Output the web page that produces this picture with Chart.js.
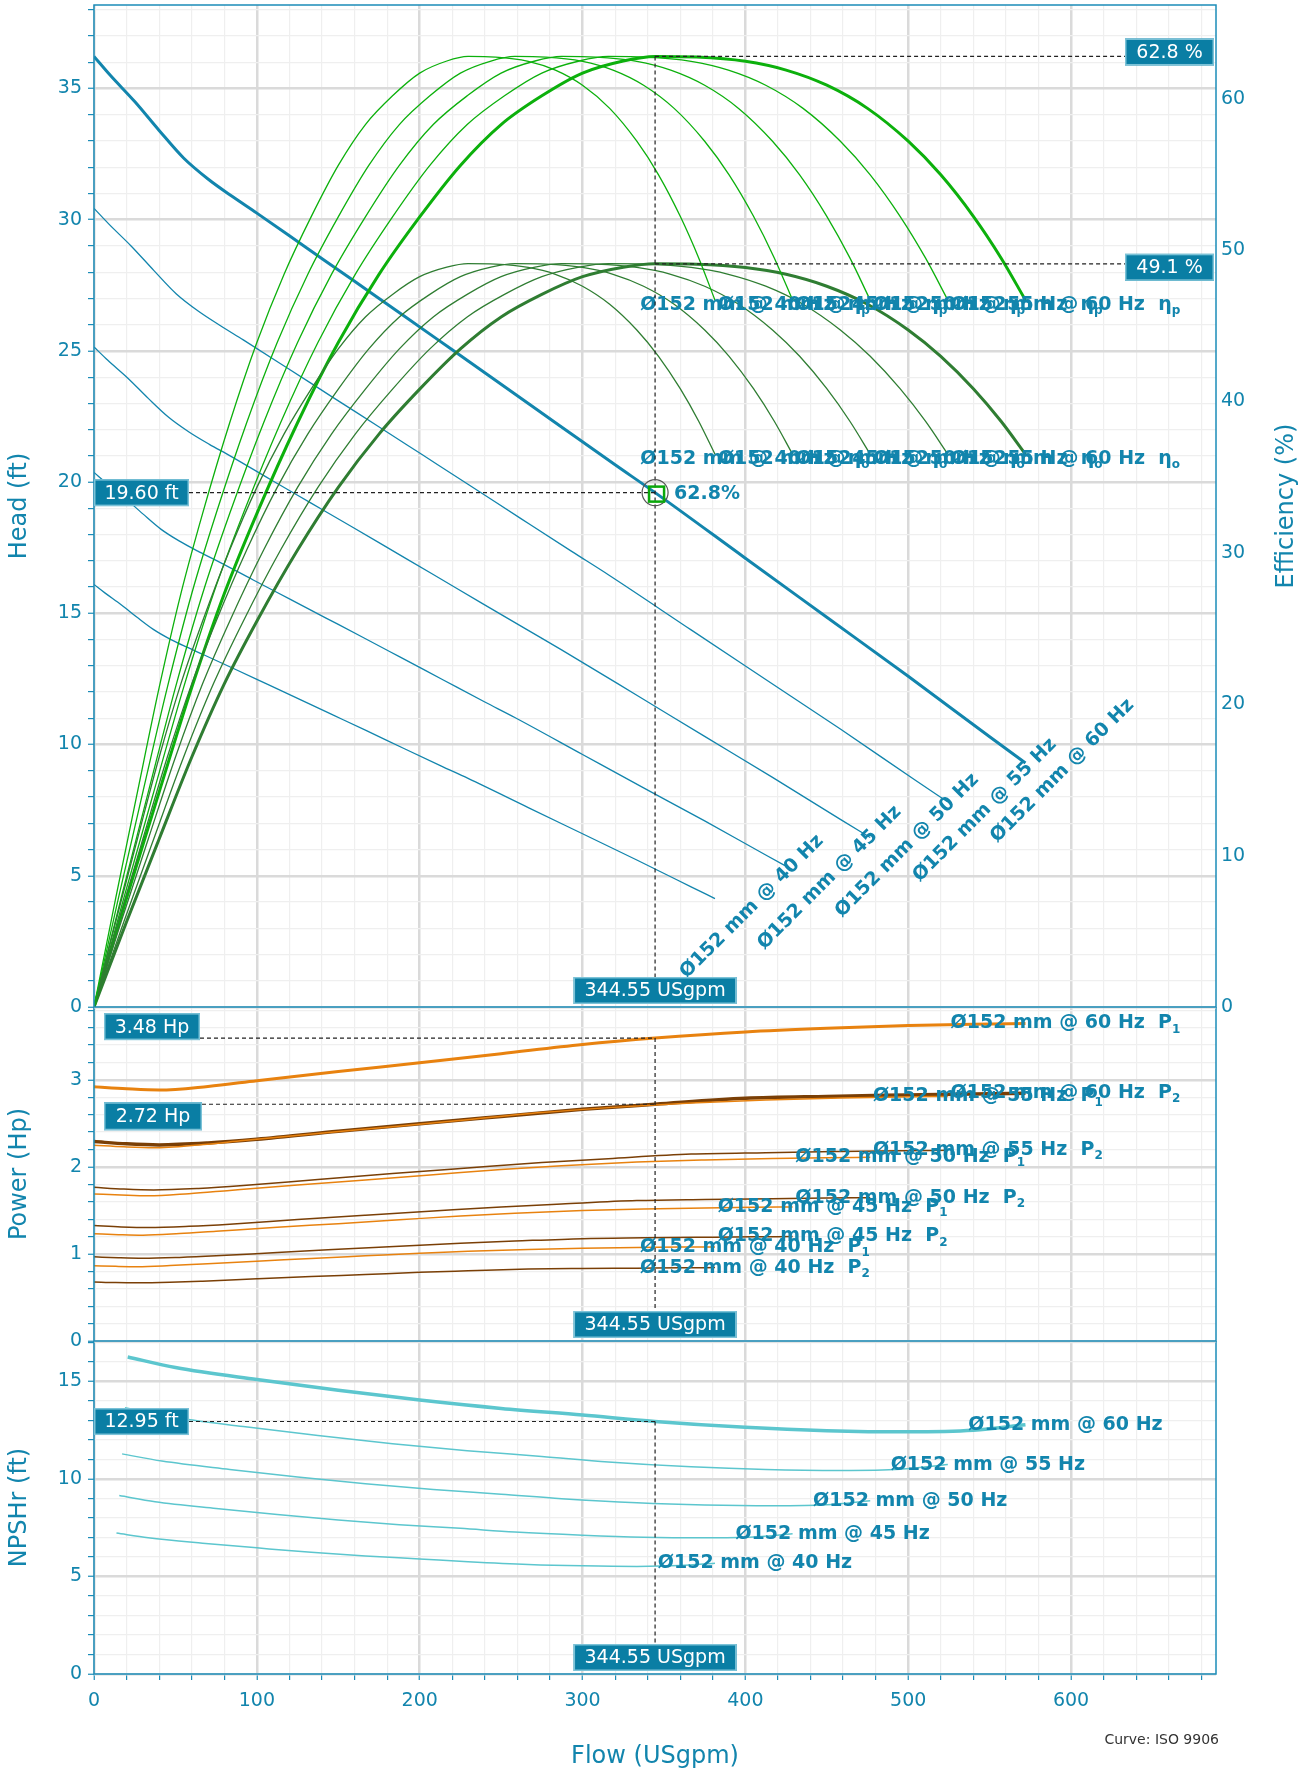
<!DOCTYPE html>
<html>
<head>
<meta charset="utf-8">
<script src="https://cdn.jsdelivr.net/npm/chart.js@4.4.1/dist/chart.umd.min.js"></script>
<style>
    body { margin: 0; background: #fff; width: 1312px; height: 1773px; position: relative; overflow: hidden; }
    .wrap { position: absolute; left: 0; width: 1312px; }
</style>
</head>
<body>
<div class="wrap" style="top:0;height:1020px;z-index:3"><canvas id="headChart"></canvas></div>
<div class="wrap" style="top:1007px;height:347px;z-index:2"><canvas id="powerChart"></canvas></div>
<div class="wrap" style="top:1341px;height:432px;z-index:1"><canvas id="npshChart"></canvas></div>
<script>
// duty point
const dutyFlow = 344.55;
const dutyHead = 19.60;
const dutyEtaP = 62.8;
const dutyEtaO = 49.1;
const dutyP1 = 3.48;
const dutyP2 = 2.72;
const dutyNpsh = 12.95;

// head curves (ft)
const headQ60 = [0, 10, 25, 40, 55, 70, 85, 100, 130, 160, 190, 220, 250, 286, 320, 344.55, 400, 450, 500, 550, 572];
const headH60 = [36.22, 35.5, 34.5, 33.4, 32.35, 31.55, 30.88, 30.25, 28.95, 27.65, 26.35, 25.04, 23.73, 22.15, 20.66, 19.6, 17.1, 14.85, 12.6, 10.3, 9.3];
const headQ55 = [0, 9.17, 22.92, 36.67, 50.42, 64.17, 77.92, 91.67, 119.17, 146.67, 174.17, 201.67, 229.17, 262.17, 293.33, 315.84, 366.67, 412.5, 458.33, 504.17, 524.33];
const headH55 = [30.43, 29.83, 28.99, 28.07, 27.18, 26.51, 25.95, 25.42, 24.33, 23.23, 22.14, 21.04, 19.94, 18.61, 17.36, 16.47, 14.37, 12.48, 10.59, 8.65, 7.81];
const headQ50 = [0, 8.33, 20.83, 33.33, 45.83, 58.33, 70.83, 83.33, 108.33, 133.33, 158.33, 183.33, 208.33, 238.33, 266.67, 287.13, 333.33, 375, 416.67, 458.33, 476.67];
const headH50 = [25.15, 24.65, 23.96, 23.19, 22.47, 21.91, 21.44, 21.01, 20.1, 19.2, 18.3, 17.39, 16.48, 15.38, 14.35, 13.61, 11.88, 10.31, 8.75, 7.15, 6.46];
const headQ45 = [0, 7.5, 18.75, 30, 41.25, 52.5, 63.75, 75, 97.5, 120, 142.5, 165, 187.5, 214.5, 240, 258.41, 300, 337.5, 375, 412.5, 429];
const headH45 = [20.37, 19.97, 19.41, 18.79, 18.2, 17.75, 17.37, 17.02, 16.28, 15.55, 14.82, 14.09, 13.35, 12.46, 11.62, 11.03, 9.62, 8.35, 7.09, 5.79, 5.23];
const headQ40 = [0, 6.67, 16.67, 26.67, 36.67, 46.67, 56.67, 66.67, 86.67, 106.67, 126.67, 146.67, 166.67, 190.67, 213.33, 229.7, 266.67, 300, 333.33, 366.67, 381.33];
const headH40 = [16.1, 15.78, 15.33, 14.84, 14.38, 14.02, 13.72, 13.44, 12.87, 12.29, 11.71, 11.13, 10.55, 9.84, 9.18, 8.71, 7.6, 6.6, 5.6, 4.58, 4.13];

// efficiency curves (%), same values at every speed, flows shift
const etaP = [0, 7.2, 14.2, 21.1, 27.3, 32.6, 38.6, 43.9, 48.4, 52.2, 55.6, 58.3, 60.2, 61.7, 62.5, 62.8, 62.76, 62.48, 61.9, 60.9, 59.37, 57.2, 54.98, 52.24, 49.49, 46.7];
const etaO = [0, 5.63, 11.1, 16.5, 21.35, 25.49, 30.19, 34.33, 37.85, 40.82, 43.48, 45.59, 47.08, 48.25, 48.88, 49.11, 49.08, 48.86, 48.41, 47.62, 46.43, 44.73, 42.99, 40.85, 38.7, 36.52];
const effQ60 = [0, 20, 40, 60, 80, 100, 125, 150, 175, 200, 225, 250, 275, 300, 325, 344.55, 370, 400, 425, 450, 475, 500, 520, 540, 557, 572];
const effQ55 = [0, 18.33, 36.67, 55, 73.33, 91.67, 114.58, 137.5, 160.42, 183.33, 206.25, 229.17, 252.08, 275, 297.92, 315.84, 339.17, 366.67, 389.58, 412.5, 435.42, 458.33, 476.67, 495, 510.58, 524.33];
const effQ50 = [0, 16.67, 33.33, 50, 66.67, 83.33, 104.17, 125, 145.83, 166.67, 187.5, 208.33, 229.17, 250, 270.83, 287.13, 308.33, 333.33, 354.17, 375, 395.83, 416.67, 433.33, 450, 464.17, 476.67];
const effQ45 = [0, 15, 30, 45, 60, 75, 93.75, 112.5, 131.25, 150, 168.75, 187.5, 206.25, 225, 243.75, 258.41, 277.5, 300, 318.75, 337.5, 356.25, 375, 390, 405, 417.75, 429];
const effQ40 = [0, 13.33, 26.67, 40, 53.33, 66.67, 83.33, 100, 116.67, 133.33, 150, 166.67, 183.33, 200, 216.67, 229.7, 246.67, 266.67, 283.33, 300, 316.67, 333.33, 346.67, 360, 371.33, 381.33];

// power curves (Hp)
const powQ60 = [0, 20, 40, 70, 100, 150, 200, 250, 300, 344.55, 400, 450, 500, 540, 572];
const powQ55 = [0, 18.33, 36.67, 64.17, 91.67, 137.5, 183.33, 229.17, 275, 315.84, 366.67, 412.5, 458.33, 495, 524.33];
const powQ50 = [0, 16.67, 33.33, 58.33, 83.33, 125, 166.67, 208.33, 250, 287.13, 333.33, 375, 416.67, 450, 476.67];
const powQ45 = [0, 15, 30, 52.5, 75, 112.5, 150, 187.5, 225, 258.41, 300, 337.5, 375, 405, 429];
const powQ40 = [0, 13.33, 26.67, 46.67, 66.67, 100, 133.33, 166.67, 200, 229.7, 266.67, 300, 333.33, 360, 381.33];
const p1_60 = [2.92, 2.897, 2.883, 2.925, 2.99, 3.095, 3.196, 3.3, 3.406, 3.48, 3.551, 3.593, 3.624, 3.64, 3.647];
const p1_55 = [2.249, 2.231, 2.221, 2.253, 2.303, 2.384, 2.462, 2.542, 2.624, 2.681, 2.735, 2.768, 2.791, 2.804, 2.809];
const p1_50 = [1.69, 1.677, 1.668, 1.693, 1.73, 1.791, 1.85, 1.91, 1.971, 2.014, 2.055, 2.079, 2.097, 2.106, 2.111];
const p1_45 = [1.232, 1.222, 1.216, 1.234, 1.261, 1.306, 1.348, 1.392, 1.437, 1.468, 1.498, 1.516, 1.529, 1.536, 1.539];
const p1_40 = [0.865, 0.858, 0.854, 0.867, 0.886, 0.917, 0.947, 0.978, 1.009, 1.031, 1.052, 1.065, 1.074, 1.079, 1.081];
const p2_60 = [2.291, 2.265, 2.253, 2.275, 2.318, 2.41, 2.497, 2.58, 2.662, 2.72, 2.788, 2.81, 2.826, 2.838, 2.845];
const p2_55 = [1.765, 1.745, 1.735, 1.752, 1.785, 1.856, 1.923, 1.987, 2.05, 2.095, 2.147, 2.164, 2.177, 2.186, 2.191];
const p2_50 = [1.326, 1.311, 1.304, 1.317, 1.341, 1.395, 1.445, 1.493, 1.54, 1.574, 1.613, 1.626, 1.635, 1.642, 1.646];
const p2_45 = [0.967, 0.956, 0.95, 0.96, 0.978, 1.017, 1.053, 1.088, 1.123, 1.148, 1.176, 1.185, 1.192, 1.197, 1.2];
const p2_40 = [0.679, 0.671, 0.668, 0.674, 0.687, 0.714, 0.74, 0.764, 0.789, 0.806, 0.826, 0.833, 0.837, 0.841, 0.843];

// NPSHr curves (ft)
const npshQ60 = [20.7, 50, 100, 150, 200, 250, 300, 344.55, 400, 450, 500, 540, 572];
const npsh60 = [16.26, 15.72, 15.1, 14.55, 14.05, 13.62, 13.28, 12.95, 12.65, 12.48, 12.42, 12.5, 12.78];
const npshQ55 = [18.98, 45.83, 91.67, 137.5, 183.33, 229.17, 275, 315.84, 366.67, 412.5, 458.33, 495, 524.33];
const npsh55 = [13.66, 13.21, 12.69, 12.23, 11.81, 11.45, 11.16, 10.88, 10.63, 10.49, 10.44, 10.5, 10.74];
const npshQ50 = [17.25, 41.67, 83.33, 125, 166.67, 208.33, 250, 287.13, 333.33, 375, 416.67, 450, 476.67];
const npsh50 = [11.29, 10.92, 10.49, 10.1, 9.76, 9.46, 9.22, 8.99, 8.78, 8.67, 8.63, 8.68, 8.88];
const npshQ45 = [15.53, 37.5, 75, 112.5, 150, 187.5, 225, 258.41, 300, 337.5, 375, 405, 429];
const npsh45 = [9.15, 8.84, 8.49, 8.18, 7.9, 7.66, 7.47, 7.28, 7.12, 7.02, 6.99, 7.03, 7.19];
const npshQ40 = [13.8, 33.33, 66.67, 100, 133.33, 166.67, 200, 229.7, 266.67, 300, 333.33, 360, 381.33];
const npsh40 = [7.23, 6.99, 6.71, 6.47, 6.24, 6.05, 5.9, 5.76, 5.62, 5.55, 5.52, 5.56, 5.68];

const FONT = '"DejaVu Sans", Verdana, sans-serif';
const AXIS = '#1b8cb8';
const TEXT = '#1285ad';
const BOX_BG = '#0a7ea4';
const HEAD_C = '#1285ad';
const ETAP_C = '#0cb00c';
const ETAO_C = '#2f7d32';
const P1_C = '#e8820f';
const P2_C = '#7a3f06';
const NPSH_C = '#5cc6ce';
const LABEL_FONT = `bold 19px ${FONT}`;
const SUB_FONT = `bold 12px ${FONT}`;

const isMajor = (v, step) => Math.abs(v / step - Math.round(v / step)) < 1e-6;
const pts = (xs, ys) => xs.map((x, i) => ({ x: x, y: ys[i] }));
const line = (xs, ys, color, width, yAxisID) => ({
    data: pts(xs, ys),
    borderColor: color,
    borderWidth: width,
    pointRadius: 0,
    fill: false,
    cubicInterpolationMode: 'monotone',
    yAxisID: yAxisID
});
const last = arr => arr[arr.length - 1];

function gridOpts(step) {
    return {
        color: c => (c.tick && isMajor(c.tick.value, step)) ? '#dadada' : '#efefef',
        lineWidth: c => (c.tick && isMajor(c.tick.value, step)) ? 2.5 : 1.2,
        tickColor: AXIS,
        tickWidth: 1.2,
        tickLength: 6
    };
}

function xScale(showTicks) {
    return {
        type: 'linear',
        min: 0,
        max: 689,
        grid: Object.assign(gridOpts(100), { drawTicks: showTicks }),
        border: { display: false },
        ticks: {
            display: showTicks, stepSize: 20, autoSkip: false, includeBounds: false, maxRotation: 0,
            color: TEXT, font: { family: FONT, size: 19 }, padding: 10,
            callback: v => isMajor(v, 100) ? v : ''
        },
        title: {
            display: showTicks, text: 'Flow (USgpm)', color: TEXT,
            font: { family: FONT, size: 24 }, padding: { top: 0, bottom: 2 }
        },
        afterFit: s => { s.height = showTicks ? 99 : 0; s.paddingLeft = 0; s.paddingRight = 0; }
    };
}

function yScale(max, step, major, title) {
    return {
        type: 'linear',
        position: 'left',
        min: 0,
        max: max,
        grid: gridOpts(major),
        border: { display: false },
        ticks: {
            stepSize: step, autoSkip: false, includeBounds: false,
            color: TEXT, font: { family: FONT, size: 19 }, padding: 6,
            callback: v => isMajor(v, major) ? Math.round(v) : ''
        },
        title: {
            display: true, text: title, color: TEXT,
            font: { family: FONT, size: 24 }, padding: { top: 5, bottom: 0 }
        },
        afterFit: s => { s.width = 94; s.paddingTop = 0; s.paddingBottom = 0; }
    };
}

function frame(ctx, a) {
    ctx.strokeStyle = AXIS;
    ctx.lineWidth = 1.5;
    ctx.strokeRect(a.left, a.top, a.right - a.left, a.bottom - a.top);
}

function dashed(ctx, segs) {
    ctx.save();
    ctx.strokeStyle = '#222';
    ctx.lineWidth = 1.2;
    ctx.setLineDash([4, 3]);
    segs.forEach(([x1, y1, x2, y2]) => {
        ctx.beginPath();
        ctx.moveTo(x1, y1);
        ctx.lineTo(x2, y2);
        ctx.stroke();
    });
    ctx.restore();
}

function valueBox(ctx, text, x, y, w, h) {
    ctx.fillStyle = BOX_BG;
    ctx.fillRect(x, y, w, h);
    ctx.strokeStyle = '#7cc3d8';
    ctx.lineWidth = 1.5;
    ctx.strokeRect(x + 0.75, y + 0.75, w - 1.5, h - 1.5);
    ctx.fillStyle = '#fff';
    ctx.font = `19px ${FONT}`;
    ctx.textAlign = 'center';
    ctx.textBaseline = 'middle';
    ctx.fillText(text, x + w / 2, y + h / 2 + 1);
}

function curveLabel(ctx, cx, cy, main, sub) {
    ctx.font = LABEL_FONT;
    const w1 = ctx.measureText(main).width;
    ctx.font = SUB_FONT;
    const w2 = sub ? ctx.measureText(sub).width : 0;
    const x0 = cx - (w1 + w2) / 2;
    ctx.fillStyle = TEXT;
    ctx.textAlign = 'left';
    ctx.textBaseline = 'middle';
    ctx.font = LABEL_FONT;
    ctx.fillText(main, x0, cy);
    if (sub) {
        ctx.font = SUB_FONT;
        ctx.fillText(sub, x0 + w1, cy + 6);
    }
}

const headCurves = [[headQ40, headH40, 40], [headQ45, headH45, 45], [headQ50, headH50, 50], [headQ55, headH55, 55], [headQ60, headH60, 60]];
const effCurves = [[effQ40, 40], [effQ45, 45], [effQ50, 50], [effQ55, 55], [effQ60, 60]];
const powCurves = [[powQ40, p1_40, p2_40, 40], [powQ45, p1_45, p2_45, 45], [powQ50, p1_50, p2_50, 50], [powQ55, p1_55, p2_55, 55], [powQ60, p1_60, p2_60, 60]];
const npshCurves = [[npshQ40, npsh40, 40], [npshQ45, npsh45, 45], [npshQ50, npsh50, 50], [npshQ55, npsh55, 55], [npshQ60, npsh60, 60]];

const common = {
    animation: false,
    responsive: true,
    maintainAspectRatio: false,
    devicePixelRatio: 1,
    events: [],
    plugins: { legend: { display: false }, tooltip: { enabled: false } }
};

// ---------- head / efficiency ----------
const headExtras = {
    id: 'headExtras',
    afterDraw(chart) {
        const { ctx, chartArea: a } = chart;
        const { x, head, eff } = chart.scales;
        ctx.save();
        frame(ctx, a);

        headCurves.forEach(([q, h, hz]) => {
            ctx.save();
            ctx.translate(x.getPixelForValue(last(q)) + 37, head.getPixelForValue(last(h)) + 8);
            ctx.rotate(-Math.PI / 4);
            curveLabel(ctx, 0, 0, `Ø152 mm @ ${hz} Hz`, '');
            ctx.restore();
        });
        effCurves.forEach(([q, hz]) => {
            const px = x.getPixelForValue(last(q)) + 40;
            curveLabel(ctx, px, eff.getPixelForValue(last(etaP)) + 5, `Ø152 mm @ ${hz} Hz  η`, 'p');
            curveLabel(ctx, px, eff.getPixelForValue(last(etaO)) + 5, `Ø152 mm @ ${hz} Hz  η`, 'o');
        });

        const dx = x.getPixelForValue(dutyFlow);
        const yH = head.getPixelForValue(dutyHead);
        const yP = eff.getPixelForValue(dutyEtaP);
        const yO = eff.getPixelForValue(dutyEtaO);
        const boxW = 89;
        const boxL = a.right - 2 - boxW;
        dashed(ctx, [
            [a.left + 95, yH, dx, yH],
            [dx, yP, dx, a.bottom - 30],
            [dx, yP, boxL, yP],
            [dx, yO, boxL, yO]
        ]);
        valueBox(ctx, `${dutyHead.toFixed(2)} ft`, a.left, yH - 13.5, 95, 27);
        valueBox(ctx, `${dutyEtaP} %`, boxL, yP - 18, boxW, 27);
        valueBox(ctx, `${dutyEtaO} %`, boxL, yO - 10, boxW, 27);
        valueBox(ctx, `${dutyFlow} USgpm`, dx - 81.5, a.bottom - 30, 163, 27);

        // duty point marker
        ctx.strokeStyle = '#555';
        ctx.lineWidth = 1.2;
        ctx.beginPath();
        ctx.arc(dx, yH, 13, 0, Math.PI * 2);
        ctx.stroke();
        ctx.strokeStyle = '#0aa80a';
        ctx.lineWidth = 2.5;
        ctx.strokeRect(dx - 6, yH - 6, 15, 15);
        ctx.fillStyle = TEXT;
        ctx.font = LABEL_FONT;
        ctx.textAlign = 'left';
        ctx.textBaseline = 'middle';
        ctx.fillText(`${dutyEtaP}%`, dx + 19, yH + 1);

        // right axis title (reads bottom to top)
        ctx.save();
        ctx.translate(1287, (a.top + a.bottom) / 2);
        ctx.rotate(-Math.PI / 2);
        ctx.fillStyle = TEXT;
        ctx.font = `24px ${FONT}`;
        ctx.textAlign = 'center';
        ctx.textBaseline = 'middle';
        ctx.fillText('Efficiency (%)', 0, 0);
        ctx.restore();
        ctx.restore();
    }
};

const headSets = [];
effCurves.forEach(([q, hz]) => {
    headSets.push(line(q, etaP, ETAP_C, hz === 60 ? 3 : 1.3, 'eff'));
    headSets.push(line(q, etaO, ETAO_C, hz === 60 ? 3 : 1.3, 'eff'));
});
headCurves.forEach(([q, h, hz]) => headSets.push(line(q, h, HEAD_C, hz === 60 ? 3 : 1.3, 'head')));

new Chart(document.getElementById('headChart'), {
    type: 'line',
    data: { datasets: headSets },
    options: Object.assign({}, common, {
        layout: { autoPadding: false, padding: { top: 5, left: 0, right: 0, bottom: 13 } },
        scales: {
            x: xScale(false),
            head: yScale(38.18, 1, 5, 'Head (ft)'),
            eff: {
                type: 'linear',
                position: 'right',
                min: 0,
                max: 66.2,
                grid: { drawOnChartArea: false, drawTicks: false },
                border: { display: false },
                ticks: {
                    stepSize: 10, autoSkip: false, includeBounds: false,
                    color: TEXT, font: { family: FONT, size: 19 }, padding: 5
                },
                afterFit: s => { s.width = 96; s.paddingTop = 0; s.paddingBottom = 0; }
            }
        }
    }),
    plugins: [headExtras]
});

// ---------- power ----------
const powerExtras = {
    id: 'powerExtras',
    afterDraw(chart) {
        const { ctx, chartArea: a } = chart;
        const { x, pow } = chart.scales;
        ctx.save();
        frame(ctx, a);
        powCurves.forEach(([q, p1, p2, hz]) => {
            const px = x.getPixelForValue(last(q)) + 40;
            curveLabel(ctx, px, pow.getPixelForValue(last(p1)), `Ø152 mm @ ${hz} Hz  P`, '1');
            curveLabel(ctx, px, pow.getPixelForValue(last(p2)), `Ø152 mm @ ${hz} Hz  P`, '2');
        });
        const dx = x.getPixelForValue(dutyFlow);
        const y1 = pow.getPixelForValue(dutyP1);
        const y2 = pow.getPixelForValue(dutyP2);
        dashed(ctx, [
            [a.left + 106, y1, dx, y1],
            [a.left + 108, y2, dx, y2],
            [dx, y1, dx, a.bottom - 30]
        ]);
        valueBox(ctx, `${dutyP1} Hp`, a.left + 10, y1 - 25, 96, 27);
        valueBox(ctx, `${dutyP2} Hp`, a.left + 10, y2 - 2, 98, 28);
        valueBox(ctx, `${dutyFlow} USgpm`, dx - 81.5, a.bottom - 30, 163, 27);
        ctx.restore();
    }
};

const powSets = [];
powCurves.forEach(([q, p1, p2, hz]) => {
    powSets.push(line(q, p2, P2_C, hz === 60 ? 3.5 : 1.5, 'pow'));
    powSets.push(line(q, p1, P1_C, hz === 60 ? 3 : 1.5, 'pow'));
});

new Chart(document.getElementById('powerChart'), {
    type: 'line',
    data: { datasets: powSets },
    options: Object.assign({}, common, {
        layout: { autoPadding: false, padding: { top: 0, left: 0, right: 96, bottom: 13 } },
        scales: {
            x: xScale(false),
            pow: yScale(3.837, 0.2, 1, 'Power (Hp)')
        }
    }),
    plugins: [powerExtras]
});

// ---------- NPSHr ----------
const npshExtras = {
    id: 'npshExtras',
    afterDraw(chart) {
        const { ctx, chartArea: a } = chart;
        const { x, npsh } = chart.scales;
        ctx.save();
        frame(ctx, a);
        npshCurves.forEach(([q, n, hz]) => {
            curveLabel(ctx, x.getPixelForValue(last(q)) + 40, npsh.getPixelForValue(last(n)), `Ø152 mm @ ${hz} Hz`, '');
        });
        const dx = x.getPixelForValue(dutyFlow);
        const yN = npsh.getPixelForValue(dutyNpsh);
        dashed(ctx, [
            [a.left + 95, yN, dx, yN],
            [dx, yN, dx, a.bottom - 30]
        ]);
        valueBox(ctx, `${dutyNpsh.toFixed(2)} ft`, a.left, yN - 13.5, 95, 27);
        valueBox(ctx, `${dutyFlow} USgpm`, dx - 81.5, a.bottom - 30, 163, 27);

        ctx.fillStyle = '#333';
        ctx.font = `14px ${FONT}`;
        ctx.textAlign = 'right';
        ctx.textBaseline = 'middle';
        ctx.fillText('Curve: ISO 9906', a.right + 3, a.bottom + 66);
        ctx.restore();
    }
};

const npshSets = npshCurves.map(([q, n, hz]) => line(q, n, NPSH_C, hz === 60 ? 3.5 : 1.5, 'npsh'));

new Chart(document.getElementById('npshChart'), {
    type: 'line',
    data: { datasets: npshSets },
    options: Object.assign({}, common, {
        layout: { autoPadding: false, padding: { top: 0, left: 0, right: 96, bottom: 0 } },
        scales: {
            x: xScale(true),
            npsh: yScale(17.08, 1, 5, 'NPSHr (ft)')
        }
    }),
    plugins: [npshExtras]
});
</script>
</body>
</html>
